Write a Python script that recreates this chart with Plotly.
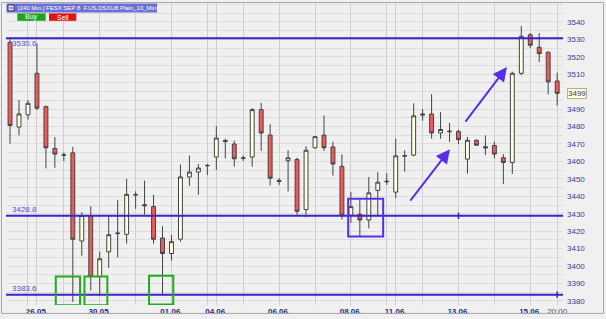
import plotly.graph_objects as go

# ---------------- data ----------------
opens  = [3528.3,3479.7,3486.7,3510.5,3491.4,3467.4,3463.8,3464.9,3414.4,3429.0,
          3394.0,3408.2,3418.6,3418.2,3440.7,3435.2,3434.1,3416.1,3407.2,3415.4,
          3451.1,3453.9,3457.5,3462.5,3472.0,3470.0,3461.8,3462.5,3489.7,3475.1,
          3449.1,3460.4,3461.1,3432.4,3467.8,3475.1,3468.3,3457.2,3429.2,3429.7,
          3426.4,3443.4,3448.3,3442.4,3463.0,3463.6,3487.2,3487.2,3476.3,3477.0,
          3477.2,3461.3,3472.1,3468.4,3469.1,3462.1,3459.4,3510.5,3532.6,3525.4,
          3522.6,3506.1]
highs  = [3530.7,3495.2,3495.2,3527.5,3492.0,3474.0,3465.1,3468.3,3430.9,3434.3,
          3408.2,3429.0,3438.0,3450.0,3442.8,3449.0,3440.9,3422.9,3417.8,3458.3,
          3463.4,3458.5,3458.5,3480.2,3473.0,3471.9,3463.4,3490.5,3493.5,3481.4,
          3450.4,3466.4,3462.1,3468.7,3474.5,3486.3,3471.2,3464.0,3442.4,3439.0,
          3451.1,3453.9,3453.2,3473.0,3466.4,3493.3,3490.0,3498.6,3488.2,3482.1,
          3478.2,3474.0,3472.6,3474.9,3471.2,3464.2,3511.4,3537.7,3533.6,3533.6,
          3523.1,3510.9]
lows   = [3470.2,3474.9,3484.0,3489.5,3456.0,3456.4,3460.2,3379.4,3405.9,3386.0,
          3383.2,3398.9,3405.0,3412.9,3432.9,3429.5,3412.9,3383.8,3403.1,3414.0,
          3446.0,3440.9,3452.2,3455.1,3461.7,3457.0,3460.2,3457.0,3466.0,3446.2,
          3446.6,3442.8,3429.5,3428.0,3467.5,3466.0,3451.9,3426.7,3424.8,3417.3,
          3421.6,3429.2,3446.6,3439.0,3454.1,3463.0,3483.4,3473.0,3473.0,3471.2,
          3470.0,3453.0,3469.0,3463.6,3461.7,3447.0,3452.8,3509.4,3525.0,3516.9,
          3498.4,3492.0]
closes = [3480.6,3487.2,3493.3,3490.5,3467.8,3464.2,3463.6,3415.4,3429.0,3394.0,
          3404.2,3418.0,3418.9,3441.1,3441.0,3434.6,3415.4,3407.2,3414.0,3451.1,
          3453.9,3456.2,3457.7,3473.4,3471.4,3461.5,3462.0,3489.7,3476.3,3450.4,
          3448.5,3462.1,3431.4,3466.4,3474.2,3467.8,3458.5,3429.2,3434.1,3426.4,
          3442.0,3448.1,3448.6,3463.2,3463.3,3486.1,3486.6,3476.3,3478.3,3477.3,
          3472.5,3472.1,3469.3,3467.8,3464.2,3459.4,3510.5,3531.7,3526.6,3521.8,
          3505.6,3499.0]

tick_idx    = [3, 10, 18, 23, 30, 38, 43, 50, 58, 61]
tick_labels = ["26.05.", "30.05.", "01.06.", "04.06.", "06.06.", "08.06.",
               "11.06.", "13.06.", "15.06.", "20:00"]
grid_idx    = [2, 3, 6, 10, 14, 18, 22, 23, 26, 30, 34, 38, 42, 43, 46, 50, 54, 58, 61]
y_ticks     = [3380, 3390, 3400, 3410, 3420, 3430, 3440, 3450, 3460, 3470,
               3480, 3490, 3510, 3520, 3530, 3540]   # 3500 hidden behind the price box

hlines      = [3530.6, 3428.8, 3383.6]
hline_marks = [None, 50, 61]          # candle index where a small tick sits on the line
last_price  = 3499

green_boxes = [(5.1, 7.8, 3394, 3377.5), (8.3, 10.85, 3394, 3377.5), (15.5, 18.2, 3394.5, 3378)]
blue_box    = (37.7, 41.6, 3438.6, 3416.9)
arrows      = [((44.5, 3436.7), (49.05, 3467.0)), ((50.65, 3482.0), (55.4, 3514.1))]

# ---------------- geometry ----------------
W, H = 606, 319
ML, MR, MT, MB = 6, 43, 3, 11
PW, PH = W - ML - MR, H - MT - MB

def px(x):  # pixel x -> paper
    return (x - ML) / PW

def py(y):  # pixel y -> paper
    return (H - MB - y) / PH

x_idx = list(range(len(opens)))
BLUE = "#3a22cc"
PURP = "#5a2ee8"
GREEN = "#22aa22"
FONT = "Liberation Sans, Arial, sans-serif"

fig = go.Figure()
fig.add_trace(go.Candlestick(
    x=x_idx, open=opens, high=highs, low=lows, close=closes,
    increasing=dict(line=dict(color="#444444", width=1), fillcolor="#fffde2"),
    decreasing=dict(line=dict(color="#444444", width=1), fillcolor="#f25858"),
    whiskerwidth=0, hoverinfo="skip", showlegend=False))

shapes = []
annotations = []

# horizontal level lines
for v, mk in zip(hlines, hline_marks):
    shapes.append(dict(type="line", xref="paper", yref="y", x0=0, x1=1, y0=v, y1=v,
                       line=dict(color=BLUE, width=2), layer="above"))
    if mk is not None:
        shapes.append(dict(type="line", xref="x", yref="y", x0=mk, x1=mk,
                           y0=v - 1.8, y1=v + 1.8, line=dict(color=BLUE, width=1.5), layer="above"))
    annotations.append(dict(xref="paper", yref="y", x=px(10), y=v, text=f"{v:.1f}",
                            showarrow=False, xanchor="left", yanchor="middle",
                            yshift=(-5 if v == hlines[0] else 6),
                            font=dict(family=FONT, size=8, color="#5050d0")))

# green boxes
for x0, x1, y0, y1 in green_boxes:
    shapes.append(dict(type="rect", xref="x", yref="y", x0=x0, x1=x1, y0=y0, y1=y1,
                       line=dict(color=GREEN, width=2), layer="above"))
# blue box
bx0, bx1, by0, by1 = blue_box
shapes.append(dict(type="rect", xref="x", yref="y", x0=bx0, x1=bx1, y0=by0, y1=by1,
                   line=dict(color=PURP, width=2), layer="above"))
# arrows
for (tx, ty), (hx, hy) in arrows:
    annotations.append(dict(xref="x", yref="y", axref="x", ayref="y", x=hx, y=hy, ax=tx, ay=ty,
                            showarrow=True, arrowhead=2, arrowsize=1.4, arrowwidth=2,
                            arrowcolor=PURP, text=""))

# last price label
annotations.append(dict(xref="paper", yref="y", x=1, y=last_price, text=str(last_price),
                        showarrow=False, xanchor="left", yanchor="middle", xshift=4,
                        bgcolor="#ffffc8", bordercolor="#b0b0a0", borderwidth=1, borderpad=0,
                        font=dict(family=FONT, size=8, color="#333399")))

# outer frame
shapes.append(dict(type="rect", xref="paper", yref="paper", x0=px(1.5), x1=px(603.5),
                   y0=py(316.5), y1=py(2.5), line=dict(color="#a8a8a8", width=1), layer="above"))

# header bar
shapes.append(dict(type="rect", xref="paper", yref="paper", x0=px(6.5), x1=px(157),
                   y0=py(12.5), y1=py(3.5), fillcolor="#6c6fd8", line=dict(width=0), layer="above"))
shapes.append(dict(type="rect", xref="paper", yref="paper", x0=px(8), x1=px(14),
                   y0=py(11), y1=py(5), fillcolor="#e8e8f8", line=dict(color="#333366", width=1), layer="above"))
shapes.append(dict(type="line", xref="paper", yref="paper", x0=px(9.5), x1=px(12.5),
                   y0=py(8), y1=py(8), line=dict(color="#333366", width=1), layer="above"))
annotations.append(dict(xref="paper", yref="paper", x=px(16), y=py(8),
                        text="[240 Min.] FESX SEP 8  F.US.DSXU8 Plain_10_Min",
                        showarrow=False, xanchor="left", yanchor="middle",
                        font=dict(family=FONT, size=6, color="white")))
# Buy / Sell buttons
shapes.append(dict(type="rect", xref="paper", yref="paper", x0=px(17.3), x1=px(45.7),
                   y0=py(21), y1=py(13.5), fillcolor="#1ea51e", line=dict(width=0), layer="above"))
shapes.append(dict(type="rect", xref="paper", yref="paper", x0=px(49), x1=px(76.3),
                   y0=py(21), y1=py(13.5), fillcolor="#dd1515", line=dict(width=0), layer="above"))
annotations.append(dict(xref="paper", yref="paper", x=px(31.5), y=py(17.3), text="Buy", showarrow=False,
                        xanchor="center", yanchor="middle", font=dict(family=FONT, size=7, color="white")))
annotations.append(dict(xref="paper", yref="paper", x=px(62.6), y=py(17.3), text="Sell", showarrow=False,
                        xanchor="center", yanchor="middle", font=dict(family=FONT, size=7, color="white")))

ticktext = [(f"<b>{t}</b>" if ":" not in t else f"<span style='color:#555577'>{t}</span>") for t in tick_labels]

fig.update_layout(
    width=W, height=H, margin=dict(l=ML, r=MR, t=MT, b=MB, pad=0),
    paper_bgcolor="#f0f0f0", plot_bgcolor="#f0f0f0",
    boxgap=0.38,
    shapes=shapes, annotations=annotations,
    xaxis=dict(range=[-0.45, 61.65], rangeslider=dict(visible=False), showgrid=False,
               zeroline=False, showline=False, tickmode="array", tickvals=tick_idx,
               ticktext=ticktext, ticks="", ticklabelstandoff=0,
               tickfont=dict(family=FONT, size=8, color="#2a2a8a"),
               minor=dict(tickmode="array", tickvals=grid_idx, showgrid=True,
                          gridcolor="#cdcdcd", gridwidth=1, ticks="")),
    yaxis=dict(side="right", range=[3377.7, 3550.8], tickmode="array", tickvals=y_ticks,
               showgrid=True, gridcolor="#dddddd", gridwidth=1, zeroline=False,
               showline=False, ticks="", ticklabelstandoff=3,
               tickfont=dict(family=FONT, size=8, color="#3a3aa0"),
               minor=dict(dtick=5, tick0=3380, showgrid=True, gridcolor="#dddddd",
                          gridwidth=1, ticks="")),
)

fig.write_html("out.html")
